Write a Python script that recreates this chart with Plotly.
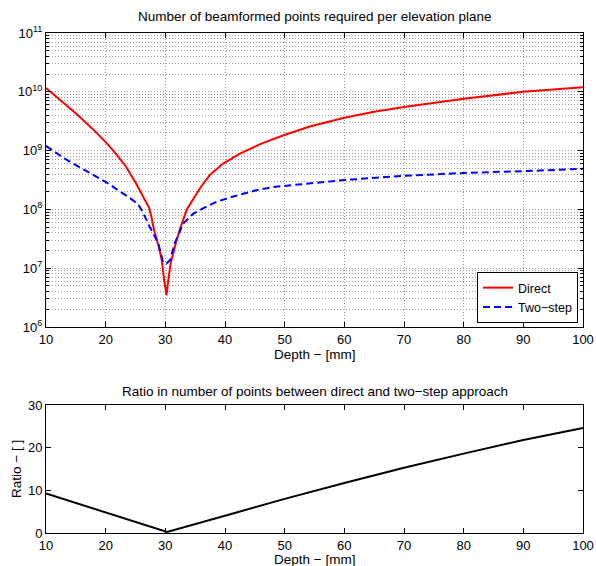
import plotly.graph_objects as go

# ---- data ----
direct_depth = [10, 13.35, 15.6, 18.4, 20.05, 21.7, 23.4, 25.1, 26.2, 27.3, 27.7, 28.1, 28.9,
                29.4, 29.8, 30.2, 30.5, 30.9, 31.9, 32.5, 33.6, 34.7, 35.8, 37.5, 39.7, 42.5,
                45.9, 49.8, 54.2, 60, 65, 70, 80, 90, 100]
direct_points = [1.16e10, 6.0e9, 3.8e9, 2.04e9, 1.38e9, 8.9e8, 5.37e8, 2.75e8, 1.66e8, 1.05e8,
                 7.2e7, 4.47e7, 2.34e7, 1.38e7, 6.3e6, 3.47e6, 6.3e6, 1.23e7, 3.02e7, 4.79e7,
                 1.0e8, 1.55e8, 2.29e8, 3.89e8, 6.03e8, 8.9e8, 1.29e9, 1.82e9, 2.57e9, 3.63e9,
                 4.57e9, 5.5e9, 7.59e9, 1.0e10, 1.2e10]

twostep_depth = [10, 13.35, 15.6, 18.4, 20.6, 22, 23.7, 25.4, 26.2, 27.4, 28.8, 29.6, 30.2,
                 30.8, 31.6, 33, 34.7, 36.4, 38.6, 41.4, 45.4, 48.1, 54.2, 60, 70, 80, 90, 100]
twostep_points = [1.2e9, 7.08e8, 5.25e8, 3.63e8, 2.69e8, 2.14e8, 1.66e8, 1.23e8, 9.1e7, 5.0e7,
                  2.69e7, 1.29e7, 1.2e7, 1.38e7, 2.69e7, 5.75e7, 8.5e7, 1.05e8, 1.35e8, 1.66e8,
                  2.14e8, 2.4e8, 2.75e8, 3.16e8, 3.72e8, 4.17e8, 4.47e8, 4.9e8]

ratio_depth = [10, 20, 30.3, 40, 50, 60, 70, 80, 90, 100]
ratio_values = [9.25, 4.8, 0.25, 4.05, 8.0, 11.7, 15.3, 18.6, 21.8, 24.6]

x_ticks = [10, 20, 30, 40, 50, 60, 70, 80, 90, 100]
log_exponents = [6, 7, 8, 9, 10, 11]
ratio_ticks = [0, 10, 20, 30]

# ---- layout helpers ----
W, H = 596, 566
FONT = "Liberation Sans, Arial, Helvetica, sans-serif"

def px_x(p):
    return p / W

def px_y(p):
    return 1 - p / H

top_dom = [px_y(327), px_y(33)]
bot_dom = [px_y(533), px_y(405)]
x_dom = [px_x(46), px_x(583)]

fig = go.Figure()
fig.add_trace(go.Scatter(x=direct_depth, y=direct_points, mode="lines", name="Direct",
                         line=dict(color="#ff0000", width=2), xaxis="x", yaxis="y"))
fig.add_trace(go.Scatter(x=twostep_depth, y=twostep_points, mode="lines", name="Two\u2212step",
                         line=dict(color="#0000ff", width=2, dash="7px,4px"), xaxis="x", yaxis="y"))
fig.add_trace(go.Scatter(x=ratio_depth, y=ratio_values, mode="lines", showlegend=False,
                         line=dict(color="#000000", width=2), xaxis="x2", yaxis="y2"))

minor_vals = [m * 10 ** e for e in log_exponents[:-1] for m in range(2, 10)]

GRID = dict(gridcolor="#9a9a9a", griddash="1px,2px", gridwidth=1)

axis_common = dict(showline=True, linecolor="black", linewidth=1, mirror="ticks",
                   ticks="inside", ticklen=5, tickcolor="black", zeroline=False,
                   automargin=False, ticklabeloverflow="allow",
                   tickfont=dict(family=FONT, size=13, color="black"))

fig.update_layout(
    width=W, height=H,
    margin=dict(l=0, r=0, t=0, b=0, autoexpand=False),
    paper_bgcolor="white", plot_bgcolor="white",
    font=dict(family=FONT, color="black"),
    xaxis=dict(domain=x_dom, anchor="y", range=[10, 100], tickvals=x_ticks,
               showgrid=True, **GRID, **axis_common),
    yaxis=dict(domain=top_dom, anchor="x", type="log", range=[6, 11],
               tickvals=[10 ** e for e in log_exponents],
               ticktext=[f"10<sup>{e}</sup>" for e in log_exponents],
               showgrid=True, **GRID,
               minor=dict(tickvals=minor_vals, ticks="inside", ticklen=3, tickcolor="black",
                          showgrid=True, **GRID),
               **axis_common),
    xaxis2=dict(domain=x_dom, anchor="y2", range=[10, 100], tickvals=x_ticks,
                showgrid=False, **axis_common),
    yaxis2=dict(domain=bot_dom, anchor="x2", range=[0, 30], tickvals=ratio_ticks,
                showgrid=False, **axis_common),
    legend=dict(x=px_x(578), y=px_y(323), xanchor="right", yanchor="bottom",
                bgcolor="white", bordercolor="black", borderwidth=1,
                font=dict(family=FONT, size=12.5, color="black"),
                tracegroupgap=0, itemwidth=30),
    showlegend=True,
)

cx = px_x((46 + 583) / 2)
ann = [
    dict(text="Number of beamformed points required per elevation plane", x=cx, y=px_y(17)),
    dict(text="Depth \u2212 [mm]", x=cx, y=px_y(354)),
    dict(text="Ratio in number of points between direct and two\u2212step approach", x=cx, y=px_y(391)),
    dict(text="Depth \u2212 [mm]", x=cx, y=px_y(559)),
]
for a in ann:
    fig.add_annotation(text=a["text"], x=a["x"], y=a["y"], xref="paper", yref="paper",
                       xanchor="center", yanchor="middle", showarrow=False,
                       font=dict(family=FONT, size=13.5, color="black"))
fig.add_annotation(text="Ratio \u2212 [ ]", x=px_x(16), y=px_y(469), xref="paper", yref="paper",
                   xanchor="center", yanchor="middle", showarrow=False, textangle=-90,
                   font=dict(family=FONT, size=13.5, color="black"))

# remove the default page margin and scrollbars so the figure fills the window exactly
page_fix = ("document.body.style.margin='0';"
            "document.body.style.overflow='hidden';"
            "document.documentElement.style.overflow='hidden';")
fig.write_html("out.html", post_script=page_fix, config={"displayModeBar": False})
